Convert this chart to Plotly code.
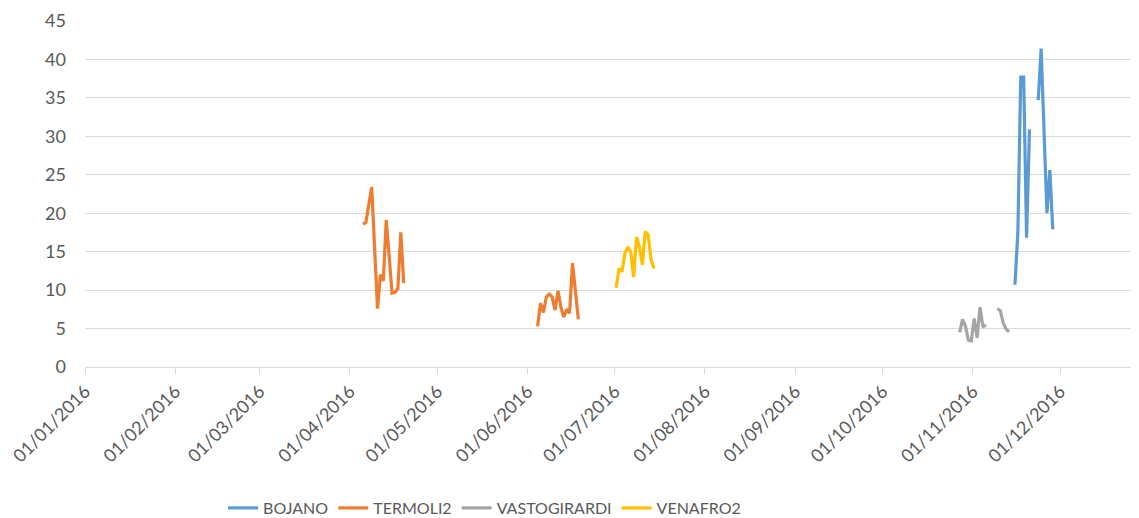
import plotly.graph_objects as go
import pandas as pd

# ---------------- data ----------------
bojano_dates = ["2016-11-15", "2016-11-16", "2016-11-17", "2016-11-18", "2016-11-19",
                "2016-11-20", "2016-11-21", "2016-11-23", "2016-11-24", "2016-11-26",
                "2016-11-27", "2016-11-28"]
bojano_values = [10.7, 17.5, 37.7, 37.7, 16.8, 30.9, None, 34.7, 41.4, 20.0, 25.6, 17.9]

termoli2_dates = ["2016-04-05", "2016-04-06", "2016-04-08", "2016-04-10", "2016-04-11",
                  "2016-04-12", "2016-04-13", "2016-04-15", "2016-04-16", "2016-04-17",
                  "2016-04-18", "2016-04-19", "2016-05-20",
                  "2016-06-04", "2016-06-05", "2016-06-06", "2016-06-07", "2016-06-08",
                  "2016-06-09", "2016-06-10", "2016-06-11", "2016-06-12", "2016-06-13",
                  "2016-06-14", "2016-06-15", "2016-06-16", "2016-06-18"]
termoli2_values = [18.6, 18.8, 23.4, 7.6, 12.0, 11.2, 19.1, 9.6, 9.7, 10.2, 17.5, 10.9, None,
                   5.3, 8.3, 7.1, 9.1, 9.5, 9.1, 7.4, 9.9, 7.8, 6.5, 7.5, 7.0, 13.5, 6.2]

vastogirardi_dates = ["2016-10-27", "2016-10-28", "2016-10-29", "2016-10-30", "2016-10-31",
                      "2016-11-01", "2016-11-02", "2016-11-03", "2016-11-04", "2016-11-05",
                      "2016-11-07",
                      "2016-11-09", "2016-11-10", "2016-11-11", "2016-11-12", "2016-11-13"]
vastogirardi_values = [4.5, 6.2, 5.3, 3.5, 3.4, 6.3, 3.8, 7.8, 5.2, 5.5, None,
                       7.6, 7.3, 5.7, 4.9, 4.6]

venafro2_dates = ["2016-07-01", "2016-07-02", "2016-07-03", "2016-07-04", "2016-07-05",
                  "2016-07-06", "2016-07-07", "2016-07-08", "2016-07-09", "2016-07-10",
                  "2016-07-11", "2016-07-12", "2016-07-13", "2016-07-14"]
venafro2_values = [10.3, 12.8, 12.4, 14.8, 15.6, 15.0, 11.7, 16.9, 15.6, 13.3, 17.6, 17.2, 13.9, 12.8]

series_names = ["BOJANO", "TERMOLI2", "VASTOGIRARDI", "VENAFRO2"]
series_colors = ["#5B9BD5", "#ED7D31", "#A5A5A5", "#FFC000"]
y_ticks = [0, 5, 10, 15, 20, 25, 30, 35, 40, 45]

# ---------------- figure ----------------
FONT = "Lato, Carlito, 'Open Sans', sans-serif"
TXT = "#595959"
GRID = "#D9D9D9"

fig = go.Figure()
all_series = [
    (bojano_dates, bojano_values),
    (termoli2_dates, termoli2_values),
    (vastogirardi_dates, vastogirardi_values),
    (venafro2_dates, venafro2_values),
]
# Excel date axis ("between tick marks"): each day's point sits mid-day
half_day = pd.Timedelta(hours=12)
for name, color, (d, v) in zip(series_names, series_colors, all_series):
    fig.add_trace(go.Scatter(
        x=pd.to_datetime(d) + half_day, y=v, name=name, mode="lines",
        line=dict(color=color, width=3.2), connectgaps=False,
    ))

month_starts = pd.date_range("2016-01-01", "2016-12-01", freq="MS")

# the page body has an 8px margin, so the figure is sized to fill the rest of the window
fig.update_layout(
    width=1131, height=510,
    margin=dict(l=77, r=0, t=13, b=151, autoexpand=False),
    paper_bgcolor="white", plot_bgcolor="white",
    font=dict(family=FONT, size=18, color=TXT),
    showlegend=True,
    legend=dict(orientation="h", x=0.131, xanchor="left", y=-0.4075, yanchor="middle",
                font=dict(family=FONT, size=16, color=TXT), itemwidth=30),
    xaxis=dict(
        type="date",
        range=["2016-01-01", "2016-12-28 03:00"],
        tickvals=month_starts,
        ticktext=[t.strftime("%d/%m/%Y") for t in month_starts],
        tickangle=-45,
        showgrid=False,
        showline=True, linecolor=GRID, linewidth=1,
        ticks="outside", ticklen=6, tickcolor=GRID, tickwidth=1,
        tickfont=dict(family=FONT, size=18, color=TXT),
        zeroline=False, automargin=False,
    ),
    yaxis=dict(
        range=[0, 45],
        tickvals=y_ticks,
        showgrid=True, gridcolor=GRID, gridwidth=1,
        showline=False, zeroline=False,
        ticks="", ticklabelstandoff=18,
        tickfont=dict(family=FONT, size=18, color=TXT),
        automargin=False,
    ),
)

fig.write_html("out.html")
